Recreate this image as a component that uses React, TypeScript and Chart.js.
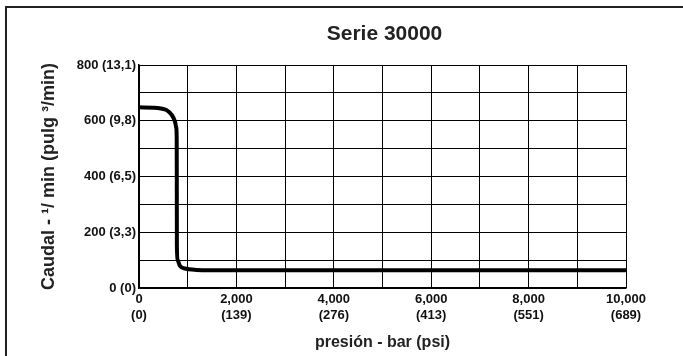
import React, { useEffect, useRef } from "react";
import { Chart, registerables } from "chart.js";

Chart.register(...registerables);

// Pressure in psi (x) and flow (y) along the curve
const pressurePsi = [0, 300, 450, 568, 671, 739, 765, 774, 776, 778, 794, 842, 945, 1184, 1458, 10000];
const flowValues = [648, 647, 644, 638, 621, 597, 575, 540, 400, 150, 100, 79, 70, 65, 64, 64];

const xTickPsi = ["0", "2,000", "4,000", "6,000", "8,000", "10,000"];
const xTickBar = ["(0)", "(139)", "(276)", "(413)", "(551)", "(689)"];
const yTickLabels = ["0 (0)", "200 (3,3)", "400 (6,5)", "600 (9,8)", "800 (13,1)"];

const titleText = "Serie 30000";
const xTitle = "presión - bar (psi)";
const yTitle = "Caudal - \u00B9/ min (pulg \u00B3/min)";

const FONT = "'Liberation Sans', Arial, Helvetica, sans-serif";

const centeredTitle = {
  id: "centeredTitle",
  afterDraw(chart: any) {
    const { ctx, chartArea } = chart;
    ctx.save();
    ctx.fillStyle = "#222";
    ctx.font = `bold 21px ${FONT}`;
    ctx.textAlign = "center";
    ctx.textBaseline = "middle";
    ctx.fillText(titleText, (chartArea.left + chartArea.right) / 2 + 2, 34);
    ctx.restore();
  },
};

export default function App() {
  const ref = useRef<HTMLCanvasElement | null>(null);

  useEffect(() => {
    if (!ref.current) return;
    const data = pressurePsi.map((x, i) => ({ x, y: flowValues[i] }));
    const chart = new Chart(ref.current, {
      type: "line",
      data: {
        datasets: [
          {
            data,
            borderColor: "#000",
            borderWidth: 4,
            pointRadius: 0,
            cubicInterpolationMode: "monotone",
            fill: false,
          },
        ],
      },
      plugins: [centeredTitle],
      options: {
        animation: false,
        responsive: false,
        maintainAspectRatio: false,
        layout: { padding: { left: 0, right: 57, top: 65, bottom: 0 } },
        plugins: {
          legend: { display: false },
          tooltip: { enabled: false },
          title: { display: false },
        },
        scales: {
          x: {
            type: "linear",
            min: 0,
            max: 10000,
            afterFit: (s: any) => {
              s.height = 68;
            },
            grid: { color: "#000", lineWidth: 1, drawTicks: false },
            border: { color: "#000", width: 1.5 },
            ticks: {
              stepSize: 1000,
              padding: 4,
              color: "#111",
              maxRotation: 0,
              autoSkip: false,
              font: { family: FONT, size: 13, weight: "bold" },
              callback: (v: any) => {
                const n = Number(v);
                if (n % 2000 !== 0) return "";
                const i = n / 2000;
                return [xTickPsi[i], xTickBar[i]];
              },
            },
            title: {
              display: true,
              text: xTitle,
              color: "#222",
              font: { family: FONT, size: 16, weight: "bold" },
              padding: { top: 0, bottom: 4 },
            },
          },
          y: {
            min: 0,
            max: 800,
            afterFit: (s: any) => {
              s.width = 139;
            },
            grid: { color: "#000", lineWidth: 1, drawTicks: false },
            border: { color: "#000", width: 1.5 },
            ticks: {
              stepSize: 100,
              padding: 3,
              color: "#111",
              autoSkip: false,
              font: { family: FONT, size: 13, weight: "bold" },
              callback: (v: any) => {
                const n = Number(v);
                if (n % 200 !== 0) return "";
                return yTickLabels[n / 200];
              },
            },
            title: {
              display: true,
              text: yTitle,
              color: "#222",
              font: { family: FONT, size: 18, weight: "bold" },
              padding: { top: 38, bottom: 0 },
            },
          },
        },
      },
    } as any);
    return () => chart.destroy();
  }, []);

  return (
    <div style={{ position: "fixed", left: 0, top: 0, width: 683, height: 356, background: "#fff" }}>
      <canvas ref={ref} width={683} height={356} style={{ position: "absolute", left: 0, top: 0 }} />
      <div
        style={{
          position: "absolute",
          left: 5,
          top: 6,
          right: 0,
          bottom: 0,
          borderTop: "2px solid #222",
          borderLeft: "2px solid #222",
          pointerEvents: "none",
        }}
      />
    </div>
  );
}
